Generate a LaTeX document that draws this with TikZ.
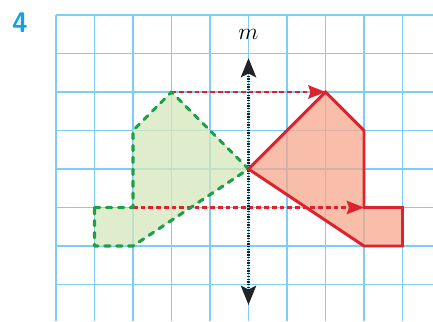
\documentclass[tikz,border=0pt]{standalone}
\usepackage{tikz}
\usetikzlibrary{arrows.meta}

\definecolor{gridblue}{RGB}{125,205,245}
\definecolor{numblue}{RGB}{20,160,225}
\definecolor{greenfill}{RGB}{214,231,188}
\definecolor{greenedge}{RGB}{30,160,70}
\definecolor{redfill}{RGB}{245,168,142}
\definecolor{rededge}{RGB}{222,35,48}
\definecolor{axisgray}{RGB}{35,35,35}

\begin{document}
\begin{tikzpicture}[
  gridline/.style={draw=gridblue, line width=1.2pt},
  shadeleft/.style={fill=greenfill, fill opacity=.75},
  shaderight/.style={fill=redfill, fill opacity=.75},
  edgeleft/.style={draw=greenedge, line width=2.3pt, dash pattern=on 4pt off 4.8pt, line cap=round, line join=round},
  edgeright/.style={draw=rededge, line width=2.2pt, line join=miter},
  mapline/.style={draw=rededge, line width=1.5pt, dash pattern=on 3.5pt off 2.2pt, -{Stealth[length=4.5mm, width=3.5mm, inset=0.6mm]}},
  mirror/.style={draw=axisgray, line width=1.6pt, dash pattern=on 1pt off 1pt, {Stealth[length=5mm, width=4mm, inset=1mm]}-{Stealth[length=5mm, width=4mm, inset=1mm]}},
]

\useasboundingbox (-1.4545,0.3896) rectangle (9.7922,-7.948);

% ── GRID ──
\draw[gridline, step=1] (0,-7.948) grid (9.7922,0);

% ── EXERCISE NUMBER ──
\node[font=\fontsize{21}{23}\selectfont\sffamily\bfseries, text=numblue] (num) at (-0.935,-0.2) {4};

% ── VERTICES: left figure, right figure ──
\coordinate (g1) at (1,-5);
\coordinate (g2) at (2,-5);
\coordinate (g3) at (2,-3);
\coordinate (g4) at (3,-2);
\coordinate (c)  at (5,-4);
\coordinate (g6) at (2,-6);
\coordinate (g7) at (1,-6);

\coordinate (r1) at (9,-5);
\coordinate (r2) at (8,-5);
\coordinate (r3) at (8,-3);
\coordinate (r4) at (7,-2);
\coordinate (r6) at (8,-6);
\coordinate (r7) at (9,-6);

% ── FILLS ──
\fill[shadeleft] (g1) -- (g2) -- (g3) -- (g4) -- (c) -- (g6) -- (g7) -- cycle;
\fill[shaderight] (r1) -- (r2) -- (r3) -- (r4) -- (c) -- (r6) -- (r7) -- cycle;

% ── MAPPING ARROWS ──
\draw[mapline] (g4) -- (r4);
\draw[mapline] (g2) -- (r2);

% ── AXIS m ──
\coordinate (mtop) at (5,-1.12);
\coordinate (mbot) at (5,-7.53);
\draw[mirror] (mtop) -- (mbot);
\node[font=\fontsize{18}{20}\selectfont] (mlabel) at (5,-0.5) {$m$};

% ── OUTLINES ──
\draw[edgeleft] (g1) -- (g2) -- (g3) -- (g4) -- (c) -- (g6) -- (g7) -- cycle;
\draw[edgeright] (r1) -- (r2) -- (r3) -- (r4) -- (c) -- (r6) -- (r7) -- cycle;

\end{tikzpicture}
\end{document}
